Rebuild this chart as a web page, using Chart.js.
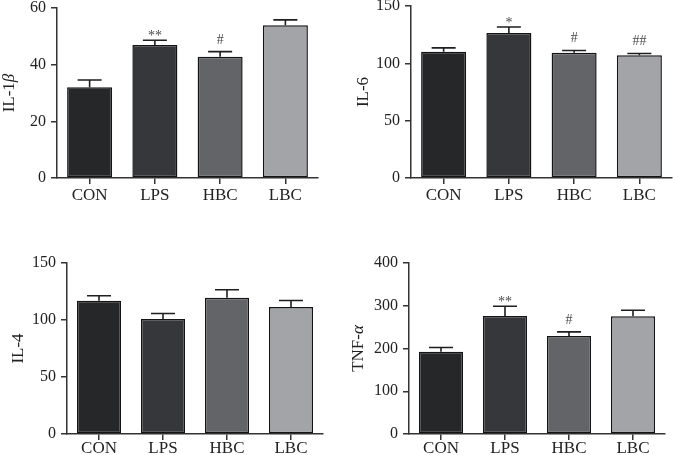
<!DOCTYPE html>
<html>
<head>
<meta charset="utf-8">
<script src="https://cdn.jsdelivr.net/npm/chart.js@4/dist/chart.umd.min.js"></script>
<style>
  html, body { margin:0; padding:0; background:#fff; width:673px; height:455px; overflow:hidden; }
  #wrap { position:relative; width:673px; height:455px; overflow:hidden; }
  canvas { position:absolute; }
</style>
</head>
<body>
<div id="wrap"></div>
<script>
// ---- data ----
const categories = ['CON', 'LPS', 'HBC', 'LBC'];
const barColors = ['#262729', '#36373a', '#636467', '#a2a4a7'];

const il1bValues = [32.0, 46.9, 42.8, 53.9];
const il1bErrors = [2.6, 1.7, 1.8, 1.9];
const il1bSig    = ['', '**', '#', ''];
const il1bTicks  = [0, 20, 40, 60];

const il6Values = [110.0, 126.5, 109.2, 107.1];
const il6Errors = [3.5, 5.2, 2.0, 1.5];
const il6Sig    = ['', '*', '#', '##'];
const il6Ticks  = [0, 50, 100, 150];

const il4Values = [116.9, 100.8, 119.5, 111.3];
const il4Errors = [4.4, 4.9, 7.0, 5.8];
const il4Sig    = ['', '', '', ''];
const il4Ticks  = [0, 50, 100, 150];

const tnfValues = [192.2, 276.2, 229.5, 275.5];
const tnfErrors = [10.2, 22.7, 9.4, 14.0];
const tnfSig    = ['', '**', '#', ''];
const tnfTicks  = [0, 100, 200, 300, 400];

const FONT = "'Liberation Serif', 'Times New Roman', serif";

// ---- plugins ----
const errorBarPlugin = {
  id: 'errorBars',
  afterDatasetsDraw(chart, args, opts) {
    const ctx = chart.ctx;
    const yScale = chart.scales.y;
    const meta = chart.getDatasetMeta(0);
    const ds = chart.data.datasets[0];
    ctx.save();
    meta.data.forEach((bar, i) => {
      const v = ds.data[i];
      const e = opts.errors[i];
      const yTop = yScale.getPixelForValue(v + e);
      const yVal = yScale.getPixelForValue(v);
      ctx.strokeStyle = '#1e1e1e';
      ctx.lineWidth = 1.6;
      ctx.beginPath();
      ctx.moveTo(bar.x, yVal);
      ctx.lineTo(bar.x, yTop);
      ctx.moveTo(bar.x - 12, yTop);
      ctx.lineTo(bar.x + 12, yTop);
      ctx.stroke();
      const s = opts.sig[i];
      if (s) {
        ctx.fillStyle = '#4a4a4a';
        ctx.font = '14px ' + FONT;
        ctx.textAlign = 'center';
        ctx.textBaseline = 'alphabetic';
        const off = s.indexOf('*') >= 0 ? 0 : 8;
        ctx.fillText(s, bar.x, yTop - off);
      }
    });
    ctx.restore();
  }
};

const axisTitlePlugin = {
  id: 'axisTitle',
  afterDraw(chart, args, opts) {
    const ctx = chart.ctx;
    const area = chart.chartArea;
    const cy = (area.top + area.bottom) / 2;
    ctx.save();
    ctx.translate(opts.x, cy);
    ctx.rotate(-Math.PI / 2);
    ctx.fillStyle = '#222';
    ctx.textBaseline = 'middle';
    ctx.textAlign = 'left';
    let total = 0;
    const widths = opts.parts.map(p => {
      ctx.font = (p.italic ? 'italic ' : '') + '17px ' + FONT;
      const w = ctx.measureText(p.text).width;
      total += w;
      return w;
    });
    let x = -total / 2;
    opts.parts.forEach((p, i) => {
      ctx.font = (p.italic ? 'italic ' : '') + '17px ' + FONT;
      ctx.fillText(p.text, x, 0);
      x += widths[i];
    });
    ctx.restore();
  }
};

// ---- panels ----
const panels = [
  { x0: 0,   L: 57,  R: 318, T: 8,   B: 178, titleX: 10,    labelPad: 1,  values: il1bValues, errors: il1bErrors, sig: il1bSig, ticks: il1bTicks,
    title: [{text: 'IL-1'}, {text: 'β', italic: true}] },
  { x0: 336, L: 411, R: 672, T: 6,   B: 178, titleX: 363.5, labelPad: 1,  values: il6Values,  errors: il6Errors,  sig: il6Sig,  ticks: il6Ticks,
    title: [{text: 'IL-6'}] },
  { x0: 0,   L: 67,  R: 323, T: 263, B: 434, titleX: 18.5,  labelPad: -2, values: il4Values,  errors: il4Errors,  sig: il4Sig,  ticks: il4Ticks,
    title: [{text: 'IL-4'}] },
  { x0: 336, L: 409, R: 665, T: 263, B: 434, titleX: 358.5, labelPad: -2, values: tnfValues,  errors: tnfErrors,  sig: tnfSig,  ticks: tnfTicks,
    title: [{text: 'TNF-'}, {text: 'α', italic: true}] }
];

const PAD_TOP = 20, PAD_RIGHT = 12, X_H = 30;
const wrap = document.getElementById('wrap');

panels.forEach(p => {
  const cv = document.createElement('canvas');
  const top = p.T - PAD_TOP;
  const w = p.R + PAD_RIGHT - p.x0;
  const h = p.B + X_H - top;
  cv.width = w; cv.height = h;
  cv.style.left = p.x0 + 'px';
  cv.style.top = top + 'px';
  cv.style.width = w + 'px';
  cv.style.height = h + 'px';
  wrap.appendChild(cv);
  const yW = p.L - p.x0;
  const tmin = p.ticks[0], tmax = p.ticks[p.ticks.length - 1];
  const step = p.ticks[1] - p.ticks[0];
  new Chart(cv, {
    type: 'bar',
    data: {
      labels: categories,
      datasets: [{
        data: p.values,
        backgroundColor: barColors,
        borderColor: '#141414',
        borderWidth: 1.5,
        borderSkipped: false,
        barPercentage: 0.69,
        categoryPercentage: 1
      }]
    },
    options: {
      responsive: false,
      animation: false,
      devicePixelRatio: 1,
      layout: { padding: { top: PAD_TOP, right: PAD_RIGHT, left: 0, bottom: 0 } },
      plugins: {
        legend: { display: false },
        tooltip: { enabled: false },
        errorBars: { errors: p.errors, sig: p.sig },
        axisTitle: { x: p.titleX - p.x0, parts: p.title }
      },
      scales: {
        x: {
          grid: { display: true, drawOnChartArea: false, drawTicks: true, tickLength: 6, offset: false, color: '#333', lineWidth: 1.5 },
          border: { display: true, color: '#333', width: 1.5 },
          ticks: { font: { family: FONT, size: 17 }, color: '#222', padding: p.labelPad, maxRotation: 0 },
          afterFit(s) { s.height = X_H; }
        },
        y: {
          min: tmin, max: tmax,
          ticks: { stepSize: step, font: { family: FONT, size: 16 }, color: '#222', padding: 5 },
          grid: { display: true, drawOnChartArea: false, drawTicks: true, tickLength: 6, color: '#333', lineWidth: 1.5 },
          border: { display: true, color: '#333', width: 1.5 },
          afterFit(s) { s.width = yW; }
        }
      }
    },
    plugins: [errorBarPlugin, axisTitlePlugin]
  });
});
</script>
</body>
</html>
